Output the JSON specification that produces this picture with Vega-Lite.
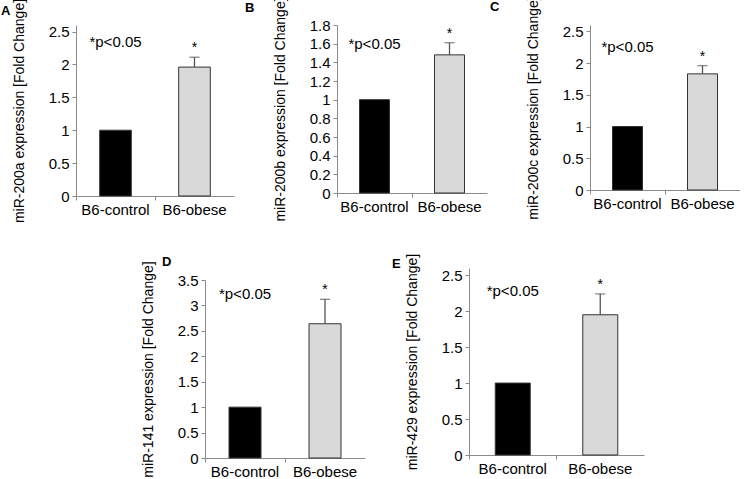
{
  "$schema": "https://vega.github.io/schema/vega-lite/v6.json",
  "autosize": {"type": "pad"},
  "padding": {"left": 1, "top": -5, "right": 0, "bottom": 0},
  "datasets": {
    "bars": [
      {"panel": "A", "group": "B6-control", "value": 1.0, "upper": null},
      {"panel": "A", "group": "B6-obese", "value": 1.96, "upper": 2.11},
      {"panel": "B", "group": "B6-control", "value": 1.0, "upper": null},
      {"panel": "B", "group": "B6-obese", "value": 1.48, "upper": 1.61},
      {"panel": "C", "group": "B6-control", "value": 1.0, "upper": null},
      {"panel": "C", "group": "B6-obese", "value": 1.83, "upper": 1.96},
      {"panel": "D", "group": "B6-control", "value": 1.0, "upper": null},
      {"panel": "D", "group": "B6-obese", "value": 2.64, "upper": 3.12},
      {"panel": "E", "group": "B6-control", "value": 1.0, "upper": null},
      {"panel": "E", "group": "B6-obese", "value": 1.95, "upper": 2.24}
    ],
    "notes": [
      {"panel": "A", "group": "B6-control", "label": "*p<0.05", "y": 2.34},
      {"panel": "B", "group": "B6-control", "label": "*p<0.05", "y": 1.6},
      {"panel": "C", "group": "B6-control", "label": "*p<0.05", "y": 2.26},
      {"panel": "D", "group": "B6-control", "label": "*p<0.05", "y": 3.23},
      {"panel": "E", "group": "B6-control", "label": "*p<0.05", "y": 2.28}
    ]
  },
  "config": {
    "view": {"stroke": null},
    "font": "Liberation Sans",
    "axis": {
      "grid": false,
      "domainColor": "#8a8a8a",
      "tickColor": "#8a8a8a",
      "labelColor": "#000000",
      "titleColor": "#000000",
      "labelFont": "Liberation Sans",
      "titleFont": "Liberation Sans",
      "labelFontSize": 15,
      "titleFontSize": 14,
      "titleFontWeight": "normal"
    },
    "axisY": {"tickSize": 4, "labelPadding": 3, "titlePadding": 22, "format": "~g"},
    "axisX": {"title": null, "labelAngle": 0, "tickSize": 4, "labelPadding": 2, "bandPosition": 0},
    "title": {"anchor": "start", "frame": "group", "fontSize": 13, "fontWeight": "bold", "font": "Liberation Sans", "color": "#000000"}
  },
  "spacing": 30,
  "vconcat": [
    {
      "spacing": 103,
      "bounds": "flush",
      "hconcat": [
        {
          "width": 158, "height": 171,
          "title": {"text": "A", "dx": -75, "offset": -20},
          "layer": [
            {"data": {"name": "bars"}, "transform": [{"filter": "datum.panel === 'A'"}],
             "mark": {"type": "bar", "width": {"band": 0.4}, "stroke": "#333333", "strokeWidth": 1},
             "encoding": {
               "x": {"field": "group", "type": "nominal", "scale": {"paddingInner": 0, "paddingOuter": 0}, "sort": null},
               "y": {"field": "value", "type": "quantitative", "scale": {"domain": [0, 2.5]}, "axis": {"values": [0, 0.5, 1, 1.5, 2, 2.5], "labelOverlap": false, "title": "miR-200a expression [Fold Change]"}},
               "fill": {"field": "group", "type": "nominal", "scale": {"domain": ["B6-control", "B6-obese"], "range": ["#000000", "#d9d9d9"]}, "legend": null}
             }},
            {"data": {"name": "bars"}, "transform": [{"filter": "datum.panel === 'A' && datum.upper != null"}],
             "mark": {"type": "rule", "color": "#555555", "strokeWidth": 1.3},
             "encoding": {"x": {"field": "group", "type": "nominal", "sort": null}, "y": {"field": "value", "type": "quantitative", "axis": {"values": [0, 0.5, 1, 1.5, 2, 2.5], "labelOverlap": false, "title": "miR-200a expression [Fold Change]"}}, "y2": {"field": "upper"}}},
            {"data": {"name": "bars"}, "transform": [{"filter": "datum.panel === 'A' && datum.upper != null"}],
             "mark": {"type": "tick", "color": "#555555", "thickness": 1.3, "size": 10},
             "encoding": {"x": {"field": "group", "type": "nominal", "sort": null}, "y": {"field": "upper", "type": "quantitative", "axis": {"values": [0, 0.5, 1, 1.5, 2, 2.5], "labelOverlap": false, "title": "miR-200a expression [Fold Change]"}}}},
            {"data": {"name": "bars"}, "transform": [{"filter": "datum.panel === 'A' && datum.upper != null"}],
             "mark": {"type": "text", "text": "*", "fontSize": 14, "dy": -5, "baseline": "alphabetic"},
             "encoding": {"x": {"field": "group", "type": "nominal", "sort": null}, "y": {"field": "upper", "type": "quantitative", "axis": {"values": [0, 0.5, 1, 1.5, 2, 2.5], "labelOverlap": false, "title": "miR-200a expression [Fold Change]"}}}},
            {"data": {"name": "notes"}, "transform": [{"filter": "datum.panel === 'A'"}],
             "mark": {"type": "text", "fontSize": 15, "baseline": "middle"},
             "encoding": {"x": {"field": "group", "type": "nominal", "sort": null}, "y": {"field": "y", "type": "quantitative", "axis": {"values": [0, 0.5, 1, 1.5, 2, 2.5], "labelOverlap": false, "title": "miR-200a expression [Fold Change]"}}, "text": {"field": "label"}}}
          ]
        },
        {
          "width": 150, "height": 168,
          "title": {"text": "B", "dx": -92, "offset": -18.5},
          "layer": [
            {"data": {"name": "bars"}, "transform": [{"filter": "datum.panel === 'B'"}],
             "mark": {"type": "bar", "width": {"band": 0.4}, "stroke": "#333333", "strokeWidth": 1},
             "encoding": {
               "x": {"field": "group", "type": "nominal", "scale": {"paddingInner": 0, "paddingOuter": 0}, "sort": null},
               "y": {"field": "value", "type": "quantitative", "scale": {"domain": [0, 1.8]}, "axis": {"values": [0, 0.2, 0.4, 0.6, 0.8, 1, 1.2, 1.4, 1.6, 1.8], "labelOverlap": false, "title": "miR-200b expression [Fold Change]"}},
               "fill": {"field": "group", "type": "nominal", "scale": {"domain": ["B6-control", "B6-obese"], "range": ["#000000", "#d9d9d9"]}, "legend": null}
             }},
            {"data": {"name": "bars"}, "transform": [{"filter": "datum.panel === 'B' && datum.upper != null"}],
             "mark": {"type": "rule", "color": "#555555", "strokeWidth": 1.3},
             "encoding": {"x": {"field": "group", "type": "nominal", "sort": null}, "y": {"field": "value", "type": "quantitative", "axis": {"values": [0, 0.2, 0.4, 0.6, 0.8, 1, 1.2, 1.4, 1.6, 1.8], "labelOverlap": false, "title": "miR-200b expression [Fold Change]"}}, "y2": {"field": "upper"}}},
            {"data": {"name": "bars"}, "transform": [{"filter": "datum.panel === 'B' && datum.upper != null"}],
             "mark": {"type": "tick", "color": "#555555", "thickness": 1.3, "size": 10},
             "encoding": {"x": {"field": "group", "type": "nominal", "sort": null}, "y": {"field": "upper", "type": "quantitative", "axis": {"values": [0, 0.2, 0.4, 0.6, 0.8, 1, 1.2, 1.4, 1.6, 1.8], "labelOverlap": false, "title": "miR-200b expression [Fold Change]"}}}},
            {"data": {"name": "bars"}, "transform": [{"filter": "datum.panel === 'B' && datum.upper != null"}],
             "mark": {"type": "text", "text": "*", "fontSize": 14, "dy": -5, "baseline": "alphabetic"},
             "encoding": {"x": {"field": "group", "type": "nominal", "sort": null}, "y": {"field": "upper", "type": "quantitative", "axis": {"values": [0, 0.2, 0.4, 0.6, 0.8, 1, 1.2, 1.4, 1.6, 1.8], "labelOverlap": false, "title": "miR-200b expression [Fold Change]"}}}},
            {"data": {"name": "notes"}, "transform": [{"filter": "datum.panel === 'B'"}],
             "mark": {"type": "text", "fontSize": 15, "baseline": "middle"},
             "encoding": {"x": {"field": "group", "type": "nominal", "sort": null}, "y": {"field": "y", "type": "quantitative", "axis": {"values": [0, 0.2, 0.4, 0.6, 0.8, 1, 1.2, 1.4, 1.6, 1.8], "labelOverlap": false, "title": "miR-200b expression [Fold Change]"}}, "text": {"field": "label"}}}
          ]
        },
        {
          "width": 150, "height": 165,
          "title": {"text": "C", "dx": -100, "offset": -18},
          "layer": [
            {"data": {"name": "bars"}, "transform": [{"filter": "datum.panel === 'C'"}],
             "mark": {"type": "bar", "width": {"band": 0.4}, "stroke": "#333333", "strokeWidth": 1},
             "encoding": {
               "x": {"field": "group", "type": "nominal", "scale": {"paddingInner": 0, "paddingOuter": 0}, "sort": null},
               "y": {"field": "value", "type": "quantitative", "scale": {"domain": [0, 2.5]}, "axis": {"values": [0, 0.5, 1, 1.5, 2, 2.5], "labelOverlap": false, "title": "miR-200c expression [Fold Change]"}},
               "fill": {"field": "group", "type": "nominal", "scale": {"domain": ["B6-control", "B6-obese"], "range": ["#000000", "#d9d9d9"]}, "legend": null}
             }},
            {"data": {"name": "bars"}, "transform": [{"filter": "datum.panel === 'C' && datum.upper != null"}],
             "mark": {"type": "rule", "color": "#555555", "strokeWidth": 1.3},
             "encoding": {"x": {"field": "group", "type": "nominal", "sort": null}, "y": {"field": "value", "type": "quantitative", "axis": {"values": [0, 0.5, 1, 1.5, 2, 2.5], "labelOverlap": false, "title": "miR-200c expression [Fold Change]"}}, "y2": {"field": "upper"}}},
            {"data": {"name": "bars"}, "transform": [{"filter": "datum.panel === 'C' && datum.upper != null"}],
             "mark": {"type": "tick", "color": "#555555", "thickness": 1.3, "size": 10},
             "encoding": {"x": {"field": "group", "type": "nominal", "sort": null}, "y": {"field": "upper", "type": "quantitative", "axis": {"values": [0, 0.5, 1, 1.5, 2, 2.5], "labelOverlap": false, "title": "miR-200c expression [Fold Change]"}}}},
            {"data": {"name": "bars"}, "transform": [{"filter": "datum.panel === 'C' && datum.upper != null"}],
             "mark": {"type": "text", "text": "*", "fontSize": 14, "dy": -5, "baseline": "alphabetic"},
             "encoding": {"x": {"field": "group", "type": "nominal", "sort": null}, "y": {"field": "upper", "type": "quantitative", "axis": {"values": [0, 0.5, 1, 1.5, 2, 2.5], "labelOverlap": false, "title": "miR-200c expression [Fold Change]"}}}},
            {"data": {"name": "notes"}, "transform": [{"filter": "datum.panel === 'C'"}],
             "mark": {"type": "text", "fontSize": 15, "baseline": "middle"},
             "encoding": {"x": {"field": "group", "type": "nominal", "sort": null}, "y": {"field": "y", "type": "quantitative", "axis": {"values": [0, 0.5, 1, 1.5, 2, 2.5], "labelOverlap": false, "title": "miR-200c expression [Fold Change]"}}, "text": {"field": "label"}}}
          ]
        }
      ]
    },
    {
      "spacing": 104,
      "bounds": "flush",
      "hconcat": [
        {"width": 25, "height": 10, "data": {"values": []}, "mark": "point"},
        {
          "width": 160, "height": 190,
          "title": {"text": "D", "dx": -43, "offset": -8},
          "layer": [
            {"data": {"name": "bars"}, "transform": [{"filter": "datum.panel === 'D'"}],
             "mark": {"type": "bar", "width": {"band": 0.4}, "stroke": "#333333", "strokeWidth": 1},
             "encoding": {
               "x": {"field": "group", "type": "nominal", "scale": {"paddingInner": 0, "paddingOuter": 0}, "sort": null},
               "y": {"field": "value", "type": "quantitative", "scale": {"domain": [0, 3.5], "range": [190, 12]}, "axis": {"values": [0, 0.5, 1, 1.5, 2, 2.5, 3, 3.5], "labelOverlap": false, "title": "miR-141 expression [Fold Change]"}},
               "fill": {"field": "group", "type": "nominal", "scale": {"domain": ["B6-control", "B6-obese"], "range": ["#000000", "#d9d9d9"]}, "legend": null}
             }},
            {"data": {"name": "bars"}, "transform": [{"filter": "datum.panel === 'D' && datum.upper != null"}],
             "mark": {"type": "rule", "color": "#555555", "strokeWidth": 1.3},
             "encoding": {"x": {"field": "group", "type": "nominal", "sort": null}, "y": {"field": "value", "type": "quantitative", "axis": {"values": [0, 0.5, 1, 1.5, 2, 2.5, 3, 3.5], "labelOverlap": false, "title": "miR-141 expression [Fold Change]"}}, "y2": {"field": "upper"}}},
            {"data": {"name": "bars"}, "transform": [{"filter": "datum.panel === 'D' && datum.upper != null"}],
             "mark": {"type": "tick", "color": "#555555", "thickness": 1.3, "size": 10},
             "encoding": {"x": {"field": "group", "type": "nominal", "sort": null}, "y": {"field": "upper", "type": "quantitative", "axis": {"values": [0, 0.5, 1, 1.5, 2, 2.5, 3, 3.5], "labelOverlap": false, "title": "miR-141 expression [Fold Change]"}}}},
            {"data": {"name": "bars"}, "transform": [{"filter": "datum.panel === 'D' && datum.upper != null"}],
             "mark": {"type": "text", "text": "*", "fontSize": 14, "dy": -5, "baseline": "alphabetic"},
             "encoding": {"x": {"field": "group", "type": "nominal", "sort": null}, "y": {"field": "upper", "type": "quantitative", "axis": {"values": [0, 0.5, 1, 1.5, 2, 2.5, 3, 3.5], "labelOverlap": false, "title": "miR-141 expression [Fold Change]"}}}},
            {"data": {"name": "notes"}, "transform": [{"filter": "datum.panel === 'D'"}],
             "mark": {"type": "text", "fontSize": 15, "baseline": "middle"},
             "encoding": {"x": {"field": "group", "type": "nominal", "sort": null}, "y": {"field": "y", "type": "quantitative", "axis": {"values": [0, 0.5, 1, 1.5, 2, 2.5, 3, 3.5], "labelOverlap": false, "title": "miR-141 expression [Fold Change]"}}, "text": {"field": "label"}}}
          ]
        },
        {
          "width": 175, "height": 187,
          "title": {"text": "E", "dx": -77, "offset": -18},
          "layer": [
            {"data": {"name": "bars"}, "transform": [{"filter": "datum.panel === 'E'"}],
             "mark": {"type": "bar", "width": {"band": 0.4}, "stroke": "#333333", "strokeWidth": 1},
             "encoding": {
               "x": {"field": "group", "type": "nominal", "scale": {"paddingInner": 0, "paddingOuter": 0}, "sort": null},
               "y": {"field": "value", "type": "quantitative", "scale": {"domain": [0, 2.5]}, "axis": {"values": [0, 0.5, 1, 1.5, 2, 2.5], "labelOverlap": false, "title": "miR-429 expression [Fold Change]"}},
               "fill": {"field": "group", "type": "nominal", "scale": {"domain": ["B6-control", "B6-obese"], "range": ["#000000", "#d9d9d9"]}, "legend": null}
             }},
            {"data": {"name": "bars"}, "transform": [{"filter": "datum.panel === 'E' && datum.upper != null"}],
             "mark": {"type": "rule", "color": "#555555", "strokeWidth": 1.3},
             "encoding": {"x": {"field": "group", "type": "nominal", "sort": null}, "y": {"field": "value", "type": "quantitative", "axis": {"values": [0, 0.5, 1, 1.5, 2, 2.5], "labelOverlap": false, "title": "miR-429 expression [Fold Change]"}}, "y2": {"field": "upper"}}},
            {"data": {"name": "bars"}, "transform": [{"filter": "datum.panel === 'E' && datum.upper != null"}],
             "mark": {"type": "tick", "color": "#555555", "thickness": 1.3, "size": 10},
             "encoding": {"x": {"field": "group", "type": "nominal", "sort": null}, "y": {"field": "upper", "type": "quantitative", "axis": {"values": [0, 0.5, 1, 1.5, 2, 2.5], "labelOverlap": false, "title": "miR-429 expression [Fold Change]"}}}},
            {"data": {"name": "bars"}, "transform": [{"filter": "datum.panel === 'E' && datum.upper != null"}],
             "mark": {"type": "text", "text": "*", "fontSize": 14, "dy": -5, "baseline": "alphabetic"},
             "encoding": {"x": {"field": "group", "type": "nominal", "sort": null}, "y": {"field": "upper", "type": "quantitative", "axis": {"values": [0, 0.5, 1, 1.5, 2, 2.5], "labelOverlap": false, "title": "miR-429 expression [Fold Change]"}}}},
            {"data": {"name": "notes"}, "transform": [{"filter": "datum.panel === 'E'"}],
             "mark": {"type": "text", "fontSize": 15, "baseline": "middle"},
             "encoding": {"x": {"field": "group", "type": "nominal", "sort": null}, "y": {"field": "y", "type": "quantitative", "axis": {"values": [0, 0.5, 1, 1.5, 2, 2.5], "labelOverlap": false, "title": "miR-429 expression [Fold Change]"}}, "text": {"field": "label"}}}
          ]
        }
      ]
    }
  ]
}
